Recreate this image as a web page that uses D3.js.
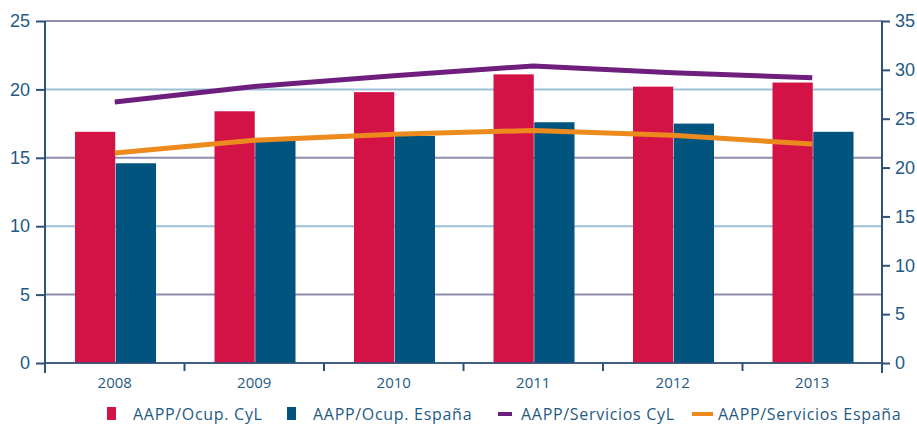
<!DOCTYPE html>
<html><head><meta charset="utf-8">
<script src="https://cdn.jsdelivr.net/npm/d3@7"></script>
<style>
html,body{margin:0;padding:0;background:#fff;}
svg{display:block;font-family:"Open Sans",sans-serif;}
</style></head>
<body><svg id="c" width="917" height="424"></svg>
<script>
const years = ["2008","2009","2010","2011","2012","2013"];
const ocupCyL = [16.9, 18.4, 19.8, 21.1, 20.2, 20.5];
const ocupEsp = [14.6, 16.3, 16.6, 17.6, 17.5, 16.9];
const servCyL = [26.7, 28.3, 29.4, 30.4, 29.7, 29.2];
const servEsp = [21.5, 22.8, 23.4, 23.8, 23.3, 22.4];
const leftTicks = [0,5,10,15,20,25];
const rightTicks = [0,5,10,15,20,25,30,35];
const legendLabels = ["AAPP/Ocup. CyL","AAPP/Ocup. España","AAPP/Servicios CyL","AAPP/Servicios España"];

const colRed="#d31245", colBlue="#00547e", colPurple="#6e1f7e", colOrange="#ec8a1e";
const axisCol="#2d5177", textCol="#1e5a85";
const gridA="#8c8cab", gridB="#9cc0d6";

const svg=d3.select("#c");
const L=45, R=882, T=21, B=363;
const x=d3.scaleBand().domain(years).range([L,R]).padding(0);
const yL=d3.scaleLinear().domain([0,25]).range([B,T]);
const yR=d3.scaleLinear().domain([0,35]).range([B,T]);
const inner=d3.scaleBand().domain(["cyl","esp"]).range([30,111]).paddingInner(1/81);

// gridlines
svg.append("g").selectAll("line").data(leftTicks).join("line")
  .attr("x1",L).attr("x2",R).attr("y1",d=>yL(d)).attr("y2",d=>yL(d))
  .attr("stroke",d=>(d===10||d===20)?gridB:gridA).attr("stroke-width",2);

// bars
const g=svg.append("g");
g.selectAll("rect.r").data(years).join("rect").attr("class","r")
  .attr("x",d=>x(d)+inner("cyl")).attr("width",inner.bandwidth())
  .attr("y",(d,i)=>yL(ocupCyL[i])).attr("height",(d,i)=>B-yL(ocupCyL[i])).attr("fill",colRed);
g.selectAll("rect.b").data(years).join("rect").attr("class","b")
  .attr("x",d=>x(d)+inner("esp")).attr("width",inner.bandwidth())
  .attr("y",(d,i)=>yL(ocupEsp[i])).attr("height",(d,i)=>B-yL(ocupEsp[i])).attr("fill",colBlue);

// lines
const cx=d=>x(d)+x.bandwidth()/2;
const line=arr=>d3.line().x(d=>cx(d)).y((d,i)=>yR(arr[i]))(years);
svg.append("path").attr("d",line(servCyL)).attr("fill","none").attr("stroke",colPurple).attr("stroke-width",5);
svg.append("path").attr("d",line(servEsp)).attr("fill","none").attr("stroke",colOrange).attr("stroke-width",5);

// axes
const styleAxis=(sel,size)=>{
  sel.select(".domain").remove();
  sel.selectAll(".tick line").attr("stroke",axisCol).attr("stroke-width",2);
  sel.selectAll(".tick text").attr("fill",textCol).style("font-size",size+"px");
};
const ay=svg.append("g").attr("transform",`translate(${L},0)`)
  .call(d3.axisLeft(yL).tickValues(leftTicks).tickSize(9).tickPadding(6));
styleAxis(ay,18);
const ar=svg.append("g").attr("transform",`translate(${R},0)`)
  .call(d3.axisRight(yR).tickValues(rightTicks).tickSize(8).tickPadding(5));
styleAxis(ar,18);
svg.append("line").attr("x1",L).attr("x2",L).attr("y1",T).attr("y2",373).attr("stroke",axisCol).attr("stroke-width",2);
svg.append("line").attr("x1",R).attr("x2",R).attr("y1",T).attr("y2",373).attr("stroke",axisCol).attr("stroke-width",2);
svg.append("line").attr("x1",L).attr("x2",R).attr("y1",B).attr("y2",B).attr("stroke",axisCol).attr("stroke-width",1.5);
// x ticks at band boundaries
svg.append("g").selectAll("line").data(years.slice(1)).join("line")
  .attr("x1",d=>x(d)).attr("x2",d=>x(d)).attr("y1",B).attr("y2",371)
  .attr("stroke",axisCol).attr("stroke-width",2);
svg.append("g").selectAll("text").data(years).join("text")
  .attr("x",d=>cx(d)).attr("y",388).attr("text-anchor","middle")
  .attr("fill",textCol).style("font-size","15px").text(d=>d);

// legend
const lg=svg.append("g");
const items=[
  {t:legendLabels[0],c:colRed,sq:true,x:107,tx:133},
  {t:legendLabels[1],c:colBlue,sq:true,x:287,tx:313},
  {t:legendLabels[2],c:colPurple,sq:false,x:498,tx:521},
  {t:legendLabels[3],c:colOrange,sq:false,x:692,tx:718}
];
items.forEach(it=>{
  if(it.sq) lg.append("rect").attr("x",it.x).attr("y",407).attr("width",9).attr("height",13).attr("fill",it.c);
  else lg.append("rect").attr("x",it.x).attr("y",412).attr("width",it.t.endsWith("CyL")?14:21).attr("height",4).attr("fill",it.c);
  lg.append("text").attr("x",it.tx).attr("y",420).attr("fill",textCol)
    .style("font-size","16px").style("letter-spacing","0.7px").text(it.t);
});
</script></body></html>
